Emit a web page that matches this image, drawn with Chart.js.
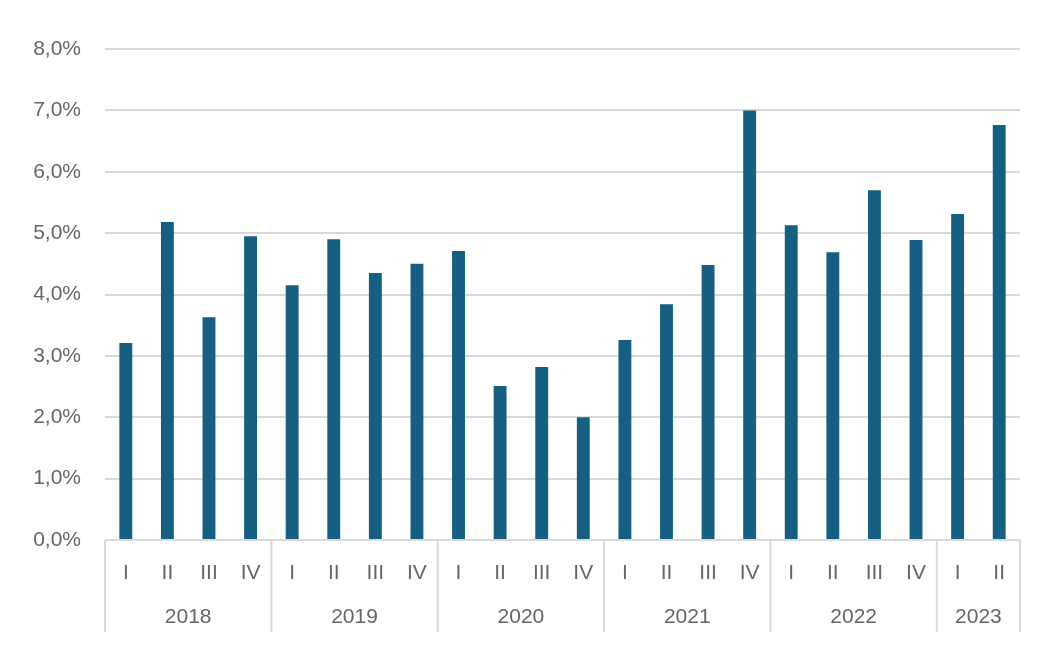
<!DOCTYPE html>
<html>
<head>
<meta charset="utf-8">
<script src="https://cdn.jsdelivr.net/npm/chart.js@4"></script>
<style>
  html, body { margin: 0; padding: 0; background: #fff; }
  #wrap { width: 1043px; height: 656px; }
</style>
</head>
<body>
<div id="wrap"><canvas id="chart" width="1043" height="656"></canvas></div>
<script>
// quarters and years
var quarters = ['I','II','III','IV','I','II','III','IV','I','II','III','IV','I','II','III','IV','I','II','III','IV','I','II'];
var years = ['2018','2018','2018','2018','2019','2019','2019','2019','2020','2020','2020','2020','2021','2021','2021','2021','2022','2022','2022','2022','2023','2023'];
// values in %
var values = [3.21, 5.18, 3.63, 4.95, 4.15, 4.90, 4.35, 4.50, 4.71, 2.51, 2.82, 2.00, 3.26, 3.84, 4.48, 7.00, 5.13, 4.69, 5.70, 4.89, 5.31, 6.76];
var yTicks = [0, 1, 2, 3, 4, 5, 6, 7, 8];

var textColor = '#666666';
var lineColor = '#d9d9d9';
var fontName = '"Liberation Sans", Arial, sans-serif';

// draws year labels and separator lines under the quarter labels
var yearAxis = {
	id: 'yearAxis',
	afterDraw: function(chart) {
		var ctx = chart.ctx;
		var x = chart.scales.x;
		var area = chart.chartArea;
		var bottom = area.bottom + 92;
		var groups = [];
		for (var i = 0; i < years.length; i++) {
			if (i == 0 || years[i] != years[i-1]) groups.push({year: years[i], from: i, to: i});
			else groups[groups.length-1].to = i;
		}
		var half = (x.getPixelForValue(1) - x.getPixelForValue(0)) / 2;
		ctx.save();
		ctx.strokeStyle = lineColor;
		ctx.lineWidth = 2;
		ctx.fillStyle = textColor;
		ctx.font = '21px ' + fontName;
		ctx.textAlign = 'center';
		ctx.textBaseline = 'middle';
		groups.forEach(function(g, k) {
			var left = x.getPixelForValue(g.from) - half;
			var right = x.getPixelForValue(g.to) + half;
			ctx.beginPath();
			ctx.moveTo(left, area.bottom);
			ctx.lineTo(left, bottom);
			ctx.stroke();
			if (k == groups.length - 1) {
				ctx.beginPath();
				ctx.moveTo(right, area.bottom);
				ctx.lineTo(right, bottom);
				ctx.stroke();
			}
			ctx.fillText(g.year, (left + right) / 2, area.bottom + 77);
		});
		ctx.restore();
	}
};

var ctx = document.getElementById('chart').getContext('2d');
var myChart = new Chart(ctx, {
	type: 'bar',
	data: {
		labels: quarters,
		datasets: [{
			data: values,
			backgroundColor: '#175f80',
			barPercentage: 0.31,
			categoryPercentage: 1
		}]
	},
	options: {
		responsive: false,
		animation: false,
		layout: { padding: { top: 49, right: 23, bottom: 0, left: 0 } },
		plugins: { legend: { display: false }, tooltip: { enabled: false } },
		scales: {
			x: {
				grid: { display: false, drawTicks: false },
				border: { display: false },
				ticks: { color: textColor, font: { family: fontName, size: 21 }, padding: 21, maxRotation: 0, autoSkip: false },
				afterFit: function(scale) { scale.height = 116; }
			},
			y: {
				min: 0,
				max: 8,
				afterBuildTicks: function(scale) { scale.ticks = yTicks.map(function(v) { return {value: v}; }); },
				grid: { color: lineColor, lineWidth: 2, drawTicks: false },
				border: { display: false },
				ticks: {
					color: textColor,
					font: { family: fontName, size: 21 },
					padding: 24,
					callback: function(v) { return v.toFixed(1).replace('.', ',') + '%'; }
				},
				afterFit: function(scale) { scale.width = 105; }
			}
		}
	},
	plugins: [yearAxis]
});
</script>
</body>
</html>
